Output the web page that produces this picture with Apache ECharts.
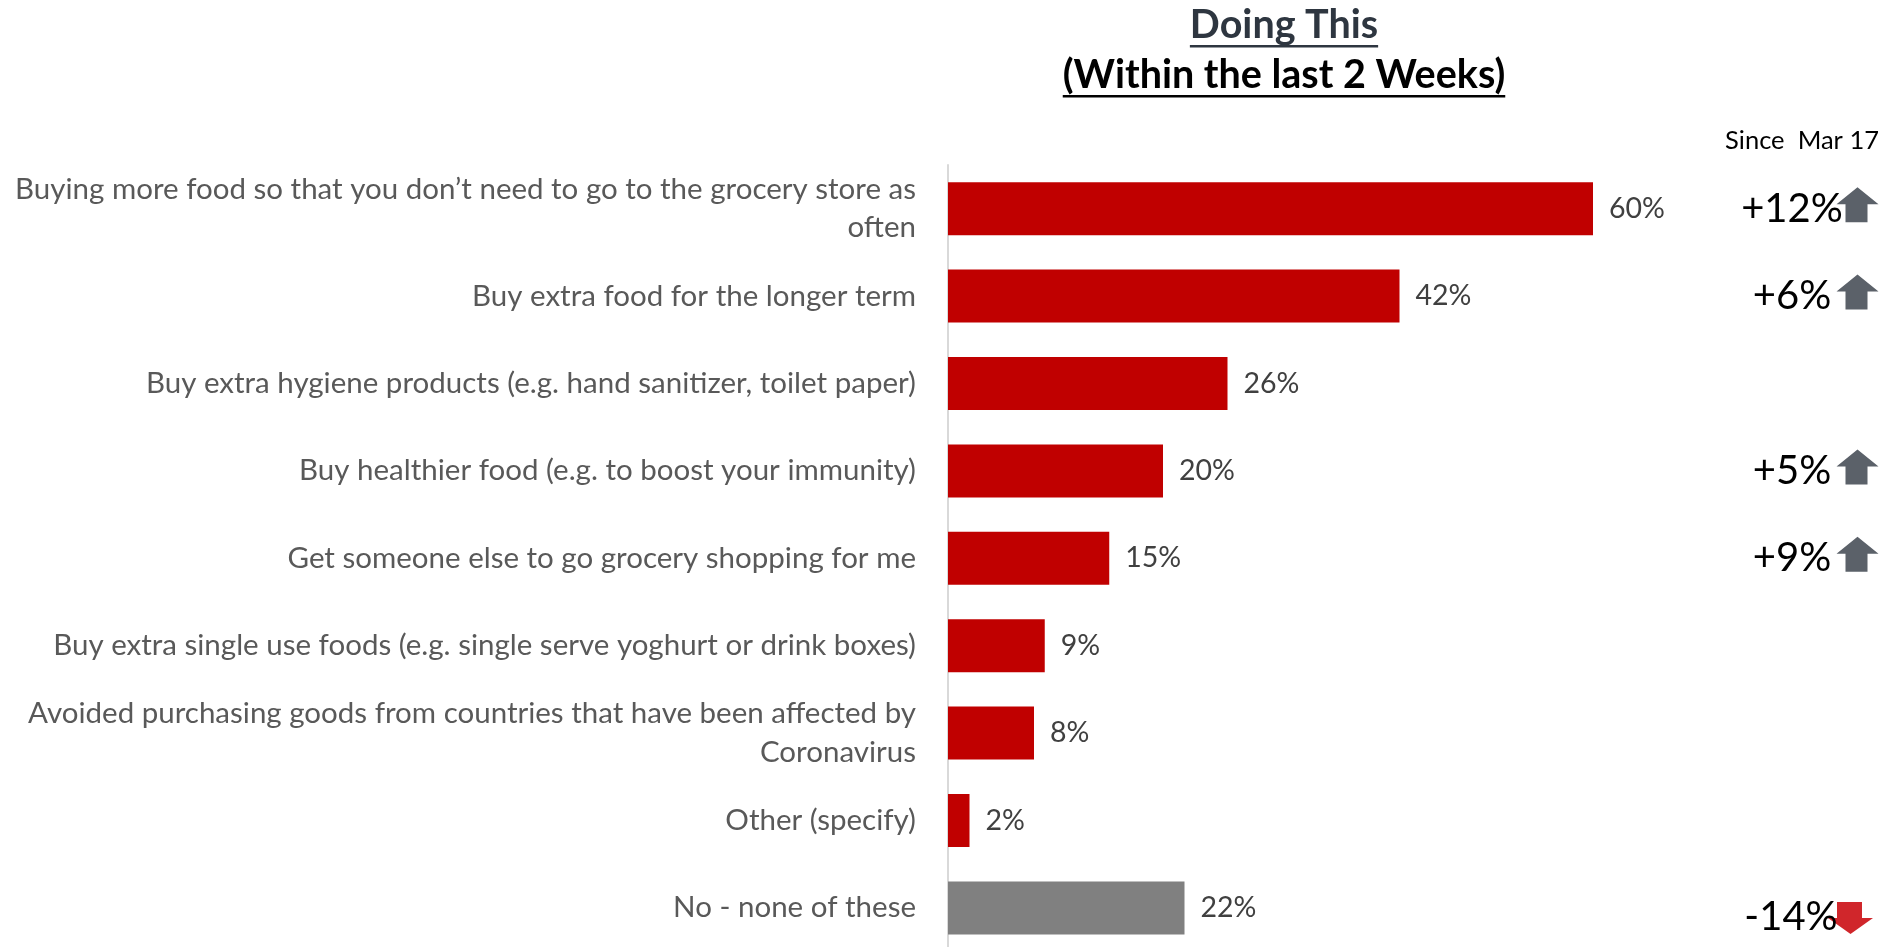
<!DOCTYPE html>
<html>
<head>
<meta charset="utf-8">
<script src="https://cdn.jsdelivr.net/npm/echarts@6/dist/echarts.min.js"></script>
<style>
  html, body { margin: 0; padding: 0; background: #ffffff; overflow: hidden; }
  /* the last row runs slightly past the bottom of the window */
  #chart { width: 1885px; height: 962px; }
</style>
</head>
<body>
<div id="chart"></div>
<script>
// Survey answers, top to bottom
const categories = [
  'Buying more food so that you don\u2019t need to go to the grocery store as\noften',
  'Buy extra food for the longer term',
  'Buy extra hygiene products (e.g. hand sanitizer, toilet paper)',
  'Buy healthier food (e.g. to boost your immunity)',
  'Get someone else to go grocery shopping for me',
  'Buy extra single use foods (e.g. single serve yoghurt or drink boxes)',
  'Avoided purchasing goods from countries that have been affected by\nCoronavirus',
  'Other (specify)',
  'No - none of these'
];
// Share doing this within the last 2 weeks (%)
const shares = [60, 42, 26, 20, 15, 9, 8, 2, 22];
// Change since Mar 17 (percentage points); null = no notable change
const changes = [12, 6, null, 5, 9, null, null, null, -14];

const titleLine1 = 'Doing This';
const titleLine2 = '(Within the last 2 Weeks)';
const changeHeader = 'Since  Mar 17';

const FONT = 'Lato, "Open Sans", sans-serif';
const RED = '#C00000';
const GREY_BAR = '#808080';
const UP_COLOR = '#5B6169';
const DOWN_COLOR = '#D0262B';

const UP_ARROW = 'path://M21,0 L42,17 L31,17 L31,35 L9,35 L9,17 L0,17 Z';
const DOWN_ARROW = 'path://M9,0 L34,0 L34,16 L45,16 L22.5,32 L0,16 L9,16 Z';

const chart = echarts.init(document.getElementById('chart'), null, { renderer: 'canvas' });

// text width helper for the underlined heading
const measureCtx = document.createElement('canvas').getContext('2d');
function textWidth(text, font) {
  measureCtx.font = font;
  return measureCtx.measureText(text).width;
}

const TITLE_X = 1284;
const titleFont = 'bold 39.5px ' + FONT;
const w1 = textWidth(titleLine1, titleFont);
const w2 = textWidth(titleLine2, titleFont);

const barData = shares.map((v, i) => ({
  value: v,
  itemStyle: { color: i === shares.length - 1 ? GREY_BAR : RED }
}));

// change markers: arrow on the right, value text centred just left of it
const changeData = [];
changes.forEach((d, i) => {
  if (d === null) return;
  const up = d > 0;
  changeData.push({
    value: [0.5, i],
    change: d,
    symbol: up ? UP_ARROW : DOWN_ARROW,
    symbolSize: up ? [42, 35] : [45, 32],
    symbolOffset: up ? [0, -4] : [-7, 10],
    itemStyle: { color: up ? UP_COLOR : DOWN_COLOR, opacity: 1 },
    label: up ? { offset: [-65.5, 4] } : { offset: [-59.5, -1] }
  });
});

const BAND = 87.4;
const gridTop = 165;
const gridHeight = BAND * categories.length;

chart.setOption({
  animation: false,
  backgroundColor: '#ffffff',
  graphic: [
    { type: 'text', left: TITLE_X - w1 / 2, top: 5,
      style: { text: titleLine1, font: titleFont, fill: '#2E3640' } },
    { type: 'rect', left: TITLE_X - w1 / 2, top: 45,
      shape: { width: w1, height: 2.5 }, style: { fill: '#2E3640' } },
    { type: 'text', left: TITLE_X - w2 / 2, top: 55,
      style: { text: titleLine2, font: titleFont, fill: '#000000' } },
    { type: 'rect', left: TITLE_X - w2 / 2, top: 95,
      shape: { width: w2, height: 2.5 }, style: { fill: '#000000' } },
    { type: 'text', right: 6, top: 128,
      style: { text: changeHeader, font: '25.5px ' + FONT, fill: '#000000' } }
  ],
  grid: [
    { left: 948, top: gridTop, height: gridHeight, width: 860, containLabel: false },
    { left: 1835, top: gridTop, height: gridHeight, width: 45, containLabel: false }
  ],
  xAxis: [
    { type: 'value', gridIndex: 0, min: 0, max: 80, show: false },
    { type: 'value', gridIndex: 1, min: 0, max: 1, show: false }
  ],
  yAxis: [
    {
      type: 'category', gridIndex: 0, data: categories, inverse: true,
      axisLine: { show: true, lineStyle: { color: '#D9D9D9', width: 2 } },
      axisTick: { show: false },
      splitLine: { show: false },
      axisLabel: {
        margin: 32, color: '#595959', fontFamily: FONT, fontSize: 29.5,
        lineHeight: 38.5, align: 'right'
      }
    },
    {
      type: 'category', gridIndex: 1, data: categories, inverse: true, show: false
    }
  ],
  series: [
    {
      type: 'bar', xAxisIndex: 0, yAxisIndex: 0, data: barData,
      barWidth: 53,
      label: {
        show: true, position: 'right', distance: 16,
        formatter: '{c}%', color: '#404040', fontFamily: FONT, fontSize: 28.5
      }
    },
    {
      type: 'scatter', xAxisIndex: 1, yAxisIndex: 1, data: changeData,
      symbolKeepAspect: false,
      label: {
        show: true, position: 'inside', align: 'center', verticalAlign: 'middle',
        formatter: p => (p.data.change > 0 ? '+' : '') + p.data.change + '%',
        color: '#000000', fontFamily: FONT, fontSize: 40
      },
      z: 3
    }
  ]
});
</script>
</body>
</html>
